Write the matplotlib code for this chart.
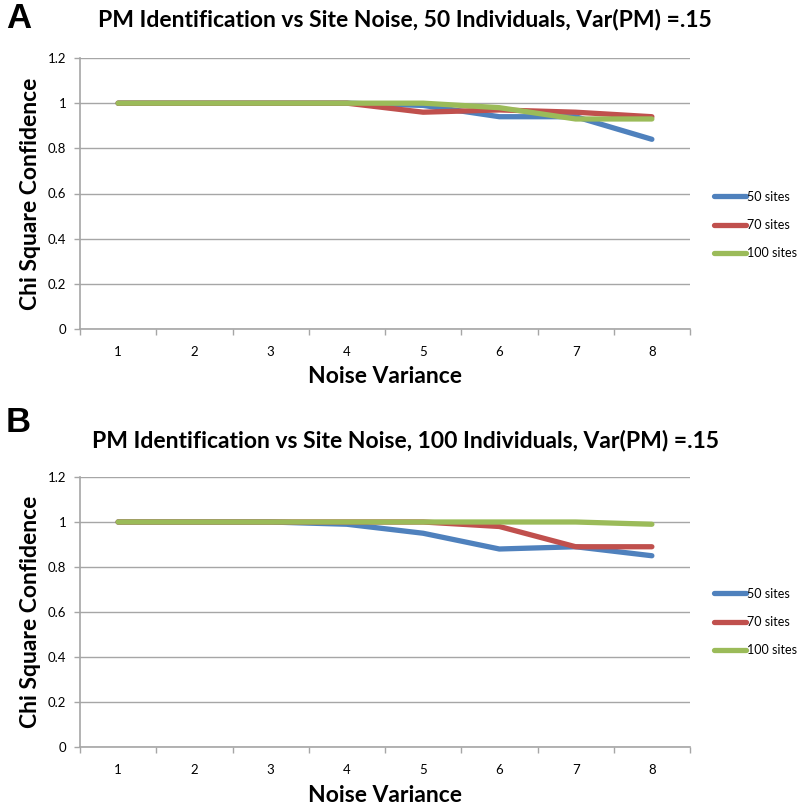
import matplotlib
matplotlib.use("Agg")
import matplotlib.pyplot as plt
import numpy as np

noise = [1, 2, 3, 4, 5, 6, 7, 8]
series_names = ["50 sites", "70 sites", "100 sites"]
colors = ["#4F81BD", "#C0504D", "#9BBB59"]

a_50 = [1, 1, 1, 1, 0.99, 0.94, 0.94, 0.84]
a_70 = [1, 1, 1, 1, 0.96, 0.97, 0.96, 0.94]
a_100 = [1, 1, 1, 1, 1.0, 0.98, 0.93, 0.93]

b_50 = [1, 1, 1, 0.99, 0.95, 0.88, 0.89, 0.85]
b_70 = [1, 1, 1, 1, 1.0, 0.98, 0.89, 0.89]
b_100 = [1, 1, 1, 1, 1, 1, 1, 0.99]

titles = ["PM Identification vs Site Noise, 50 Individuals, Var(PM) =.15",
          "PM Identification vs Site Noise, 100 Individuals, Var(PM) =.15"]
panel_labels = ["A", "B"]
yticks = [0, 0.2, 0.4, 0.6, 0.8, 1, 1.2]
ytick_labels = ["0", "0.2", "0.4", "0.6", "0.8", "1", "1.2"]

plt.rcParams['font.family'] = ['Lato', 'DejaVu Sans']

fig = plt.figure(figsize=(8, 8.09), dpi=100)
W, H = 800, 809

def px_axes(left, top, right, bottom):
    return fig.add_axes([left / W, 1 - bottom / H, (right - left) / W, (bottom - top) / H])

panels = [
    dict(data=[a_50, a_70, a_100], box=(80, 58, 690, 329), title_y=20, lab_y=18, xlab_y=376, leg_y=225),
    dict(data=[b_50, b_70, b_100], box=(80, 477, 690, 747), title_y=440, lab_y=423, xlab_y=796, leg_y=622),
]

grey = "#A6A6A6"
for i, p in enumerate(panels):
    ax = px_axes(*p["box"])
    for vals, name, c in zip(p["data"], series_names, colors):
        ax.plot(noise, vals, color=c, lw=3.8, solid_capstyle="round", label=name, zorder=3)
    ax.set_xlim(0.5, 8.5)
    ax.set_ylim(0, 1.2)
    ax.set_yticks(yticks)
    ax.set_yticklabels(ytick_labels)
    ax.set_xticks(np.arange(0.5, 9.0, 1.0))
    ax.set_xticklabels([])
    ax.set_xticks(noise, minor=True)
    ax.set_xticklabels([str(n) for n in noise], minor=True)
    ax.tick_params(axis="x", which="minor", length=0, pad=12, labelsize=9.5)
    ax.tick_params(axis="x", which="major", length=4, color=grey, width=1)
    ax.tick_params(axis="y", length=4, color=grey, width=1, labelsize=9.5, pad=6)
    ax.grid(axis="y", color=grey, lw=1)
    ax.set_axisbelow(True)
    for s in ["top", "right"]:
        ax.spines[s].set_visible(False)
    for s in ["left", "bottom"]:
        ax.spines[s].set_color(grey)
        ax.spines[s].set_linewidth(1.2)
    ax.set_ylabel("Chi Square Confidence", fontsize=16.5, fontweight="bold", labelpad=5)
    fig.text(385 / W, 1 - p["xlab_y"] / H, "Noise Variance", fontsize=16.5, fontweight="bold",
             ha="center", va="center")
    fig.text(405 / W, 1 - p["title_y"] / H, titles[i], fontsize=16.5, fontweight="bold",
             ha="center", va="center")
    fig.text(6 / W, 1 - p["lab_y"] / H, panel_labels[i], fontsize=25, fontweight="bold",
             ha="left", va="center", family=["Liberation Sans", "DejaVu Sans"])
    leg = ax.legend(loc="center left", bbox_to_anchor=(708 / W, 1 - p["leg_y"] / H),
                    bbox_transform=fig.transFigure, frameon=False, fontsize=9,
                    handlelength=2.5, handletextpad=0.15, labelspacing=1.3, borderpad=0)

fig.savefig("out.png", dpi=100)
